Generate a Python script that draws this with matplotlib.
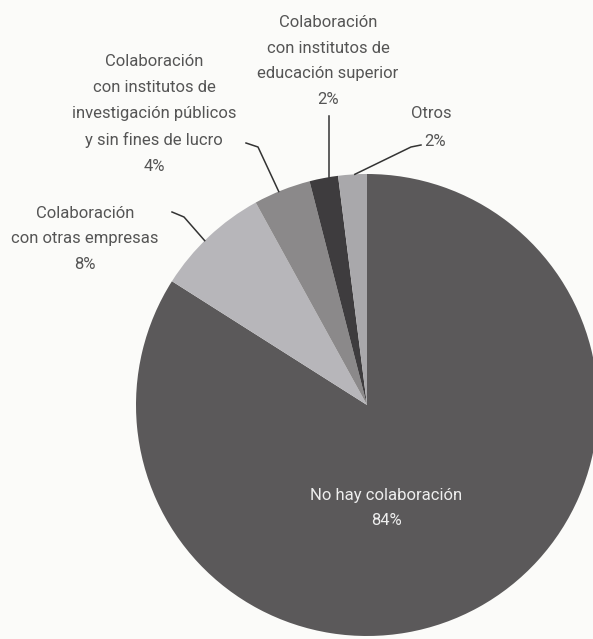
import matplotlib.pyplot as plt
import numpy as np

# ── Data ──────────────────────────────────────────────────────────────────────
labels = [
    "No hay colaboración",
    "Colaboración\ncon otras empresas",
    "Colaboración\ncon institutos de\ninvestigación públicos\ny sin fines de lucro",
    "Colaboración\ncon institutos de\neducación superior",
    "Otros",
]
values = [84, 8, 4, 2, 2]
colors = ["#5b595a", "#b7b6ba", "#8b898a", "#3e3c3e", "#a9a8ab"]

BG = "#fbfbf9"
TXT = "#555555"
FONT = ["Roboto", "DejaVu Sans"]

W, H = 593, 639
CX, CY, R = 367, 405, 231   # pie centre / radius in pixels


def px(x, y):
    """pixel coords (top-left origin) -> data coords (radius = 1)"""
    return (x - CX) / R, (CY - y) / R


fig = plt.figure(figsize=(W / 100, H / 100), dpi=100, facecolor=BG)
ax = fig.add_axes([0, 0, 1, 1])
ax.set_facecolor(BG)

wedges, _ = ax.pie(values, colors=colors, startangle=90, counterclock=False,
                   radius=1, center=(0, 0), frame=True,
                   wedgeprops=dict(linewidth=0))
ax.set_xlim((0 - CX) / R, (W - CX) / R)
ax.set_ylim((CY - H) / R, CY / R)
ax.set_aspect("equal")
ax.axis("off")


def edge_point(w, frac=0.5, r=1.0):
    a = np.deg2rad(w.theta1 + (w.theta2 - w.theta1) * frac)
    return r * np.cos(a), r * np.sin(a)


# ── Labels ────────────────────────────────────────────────────────────────────
fs = 12
ls = 1.88
# main slice (white text inside)
ax.text(*px(386, 508), f"{labels[0]}\n{values[0]}%", ha="center", va="center",
        color="#eeeeee", fontsize=fs, family=FONT, linespacing=ls)

# otras empresas
ax.text(*px(85, 239), f"{labels[1]}\n{values[1]}%", ha="center", va="center",
        color=TXT, fontsize=fs, family=FONT, linespacing=ls)
ex, ey = edge_point(wedges[1], 0.55)
ax.plot([px(172, 212)[0], px(184, 217)[0], ex],
        [px(172, 212)[1], px(184, 217)[1], ey], color="#333333", lw=1.1)

# investigación
ax.text(*px(154, 114), f"{labels[2]}\n{values[2]}%", ha="center", va="center",
        color=TXT, fontsize=fs, family=FONT, linespacing=ls)
ex, ey = edge_point(wedges[2], 0.56)
ax.plot([px(246, 143)[0], px(258, 147)[0], ex],
        [px(246, 143)[1], px(258, 147)[1], ey], color="#333333", lw=1.1)

# educación superior
ax.text(*px(328, 61), f"{labels[3]}\n{values[3]}%", ha="center", va="center",
        color=TXT, fontsize=fs, family=FONT, linespacing=ls)
ex, ey = edge_point(wedges[3], 0.3)
ax.plot([ex, ex], [px(0, 116)[1], ey], color="#333333", lw=1.1)

# otros
ax.text(*px(431, 113), labels[4], ha="center", va="center",
        color=TXT, fontsize=fs, family=FONT)
ax.text(*px(435, 141), f"{values[4]}%", ha="center", va="center",
        color=TXT, fontsize=fs, family=FONT)
ex, ey = edge_point(wedges[4], 0.42)
ax.plot([px(421, 145)[0], px(411, 147)[0], ex],
        [px(421, 145)[1], px(411, 147)[1], ey], color="#333333", lw=1.1)

fig.savefig("out.png", dpi=100, facecolor=BG)
